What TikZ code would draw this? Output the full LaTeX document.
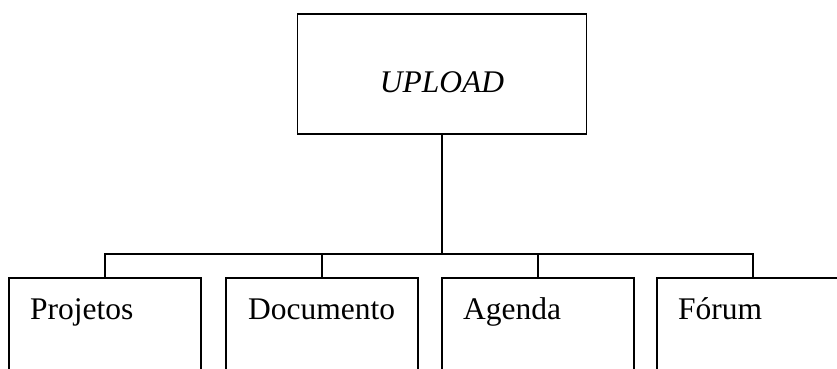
\documentclass[tikz,border=0pt]{standalone}
\usepackage{fontspec}
\setmainfont{Liberation Serif}
\begin{document}
\begin{tikzpicture}[x=1pt,y=-1pt,
  box/.style={draw,line width=1.8pt,rectangle,inner sep=0pt,minimum height=120pt},
  lbl/.style={anchor=base west,inner sep=0pt,font=\fontsize{31.5}{38}\selectfont},
  conn/.style={line width=1.8pt}]
\clip (0,0) rectangle (837,369);
\node[box,minimum width=289pt] (top) at (442,74) {};
\node[anchor=base,inner sep=0pt,font=\fontsize{31.5}{38}\selectfont\itshape] (toplbl) at (442,92) {UPLOAD};
\node[box,minimum width=192pt] (b1) at (105,338) {};
\node[box,minimum width=192pt] (b2) at (322,338) {};
\node[box,minimum width=192pt] (b3) at (538,338) {};
\node[box,minimum width=192pt] (b4) at (753,338) {};
\node[lbl] (t1) at (30,319) {Projetos};
\node[lbl] (t2) at (248,319) {Documento};
\node[lbl] (t3) at (463,319) {Agenda};
\node[lbl] (t4) at (678,319) {Fórum};
\coordinate (bus) at (442,254);
\draw[conn] (top.south) -- (bus);
\draw[conn] (b1.north) |- (bus) -| (b4.north);
\draw[conn] (b2.north) -- (b2.north |- bus);
\draw[conn] (b3.north) -- (b3.north |- bus);
\end{tikzpicture}
\end{document}
